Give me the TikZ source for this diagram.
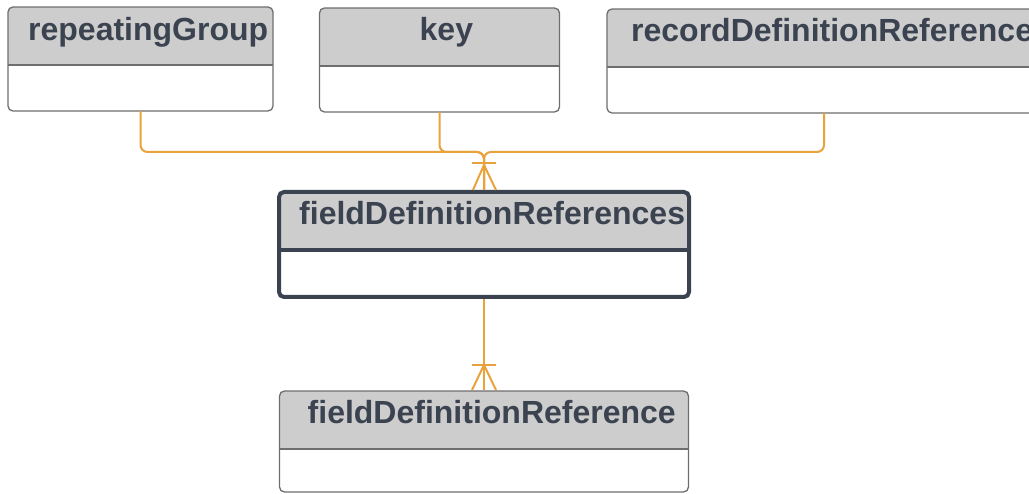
\documentclass[tikz,border=0pt]{standalone}
\usepackage{fontspec}
\setmainfont{Liberation Sans}
\usetikzlibrary{calc, positioning}

\definecolor{headgray}{HTML}{CDCDCD}
\definecolor{boxgray}{HTML}{6E6E6E}
\definecolor{darkline}{HTML}{3B4350}
\definecolor{relorange}{HTML}{E8A33C}

\begin{document}
\begin{tikzpicture}[x=1pt,y=1pt,
    entity/.style={draw=boxgray, line width=1.3pt, rounded corners=5pt,
      inner sep=0pt, outer sep=0pt, minimum height=104pt,
      path picture={
        \fill[headgray, sharp corners] (path picture bounding box.north west)
          rectangle ([yshift=-58pt]path picture bounding box.north east);
        \draw[#1, sharp corners] ([yshift=-58pt]path picture bounding box.north west)
          -- ([yshift=-58pt]path picture bounding box.north east);}},
    entity/.default={boxgray, line width=1.3pt},
    title/.style={anchor=base west, inner sep=0pt, text=darkline,
      font=\bfseries\fontsize{32}{37}\selectfont},
    rel/.style={draw=relorange, line width=2pt, rounded corners=7pt}]

  \useasboundingbox (0,0) rectangle (1029,-494);
  \fill[white] (0,0) rectangle (1029,-494);
  \clip (0,0) rectangle (1029,-494);

  % tables
  \node[entity, minimum width=265pt] (repeatingGroup) at (140.5,-59) {};
  \node[entity, minimum width=240pt] (key) at (439.5,-60) {};
  \node[entity, minimum width=434pt] (recordDef) at (824,-61) {};
  \node[entity={darkline, line width=4pt}, draw=darkline, line width=4pt,
        minimum width=410pt, minimum height=105pt] (fieldDefs) at (484,-244.5) {};
  \node[entity, minimum width=409pt, minimum height=101pt,
        below=94pt of fieldDefs] (fieldDef) {};

  % titles
  \node[title] (repeatingGroupTitle) at ($(repeatingGroup.north west)+(20,-34)$) {repeatingGroup};
  \node[title] (keyTitle) at ($(key.north west)+(100,-33)$) {key};
  \node[title] (recordDefTitle) at ($(recordDef.north west)+(24,-33)$) {recordDefinitionReference};
  \node[title] (fieldDefsTitle) at ($(fieldDefs.north west)+(20,-33)$) {fieldDefinitionReferences};
  \node[title] (fieldDefTitle) at ($(fieldDef.north west)+(28,-33)$) {fieldDefinitionReference};

  % relations
  \coordinate (join) at ($(fieldDefs.north)+(0,40)$);
  \coordinate (topEnd) at ($(fieldDefs.north)+(0,2)$);
  \draw[rel] (repeatingGroup.south) |- (join) -- (topEnd);
  \draw[rel] (key.south) |- (join) -- (topEnd);
  \draw[rel] (recordDef.south) |- (join) -- (topEnd);
  \draw[rel] ($(topEnd)+(-12,27)$) -- ($(topEnd)+(12,27)$);
  \draw[rel, sharp corners] ($(topEnd)+(-11,0)$) -- ($(topEnd)+(0,25)$) -- ($(topEnd)+(12,0)$);

  \coordinate (bottomEnd) at ($(fieldDef.north)+(0,1)$);
  \draw[rel] ($(fieldDefs.south)+(0,-2)$) -- (bottomEnd);
  \draw[rel] ($(bottomEnd)+(-12,25)$) -- ($(bottomEnd)+(12,25)$);
  \draw[rel, sharp corners] ($(bottomEnd)+(-12,0)$) -- ($(bottomEnd)+(0,25)$) -- ($(bottomEnd)+(12,0)$);

\end{tikzpicture}
\end{document}
